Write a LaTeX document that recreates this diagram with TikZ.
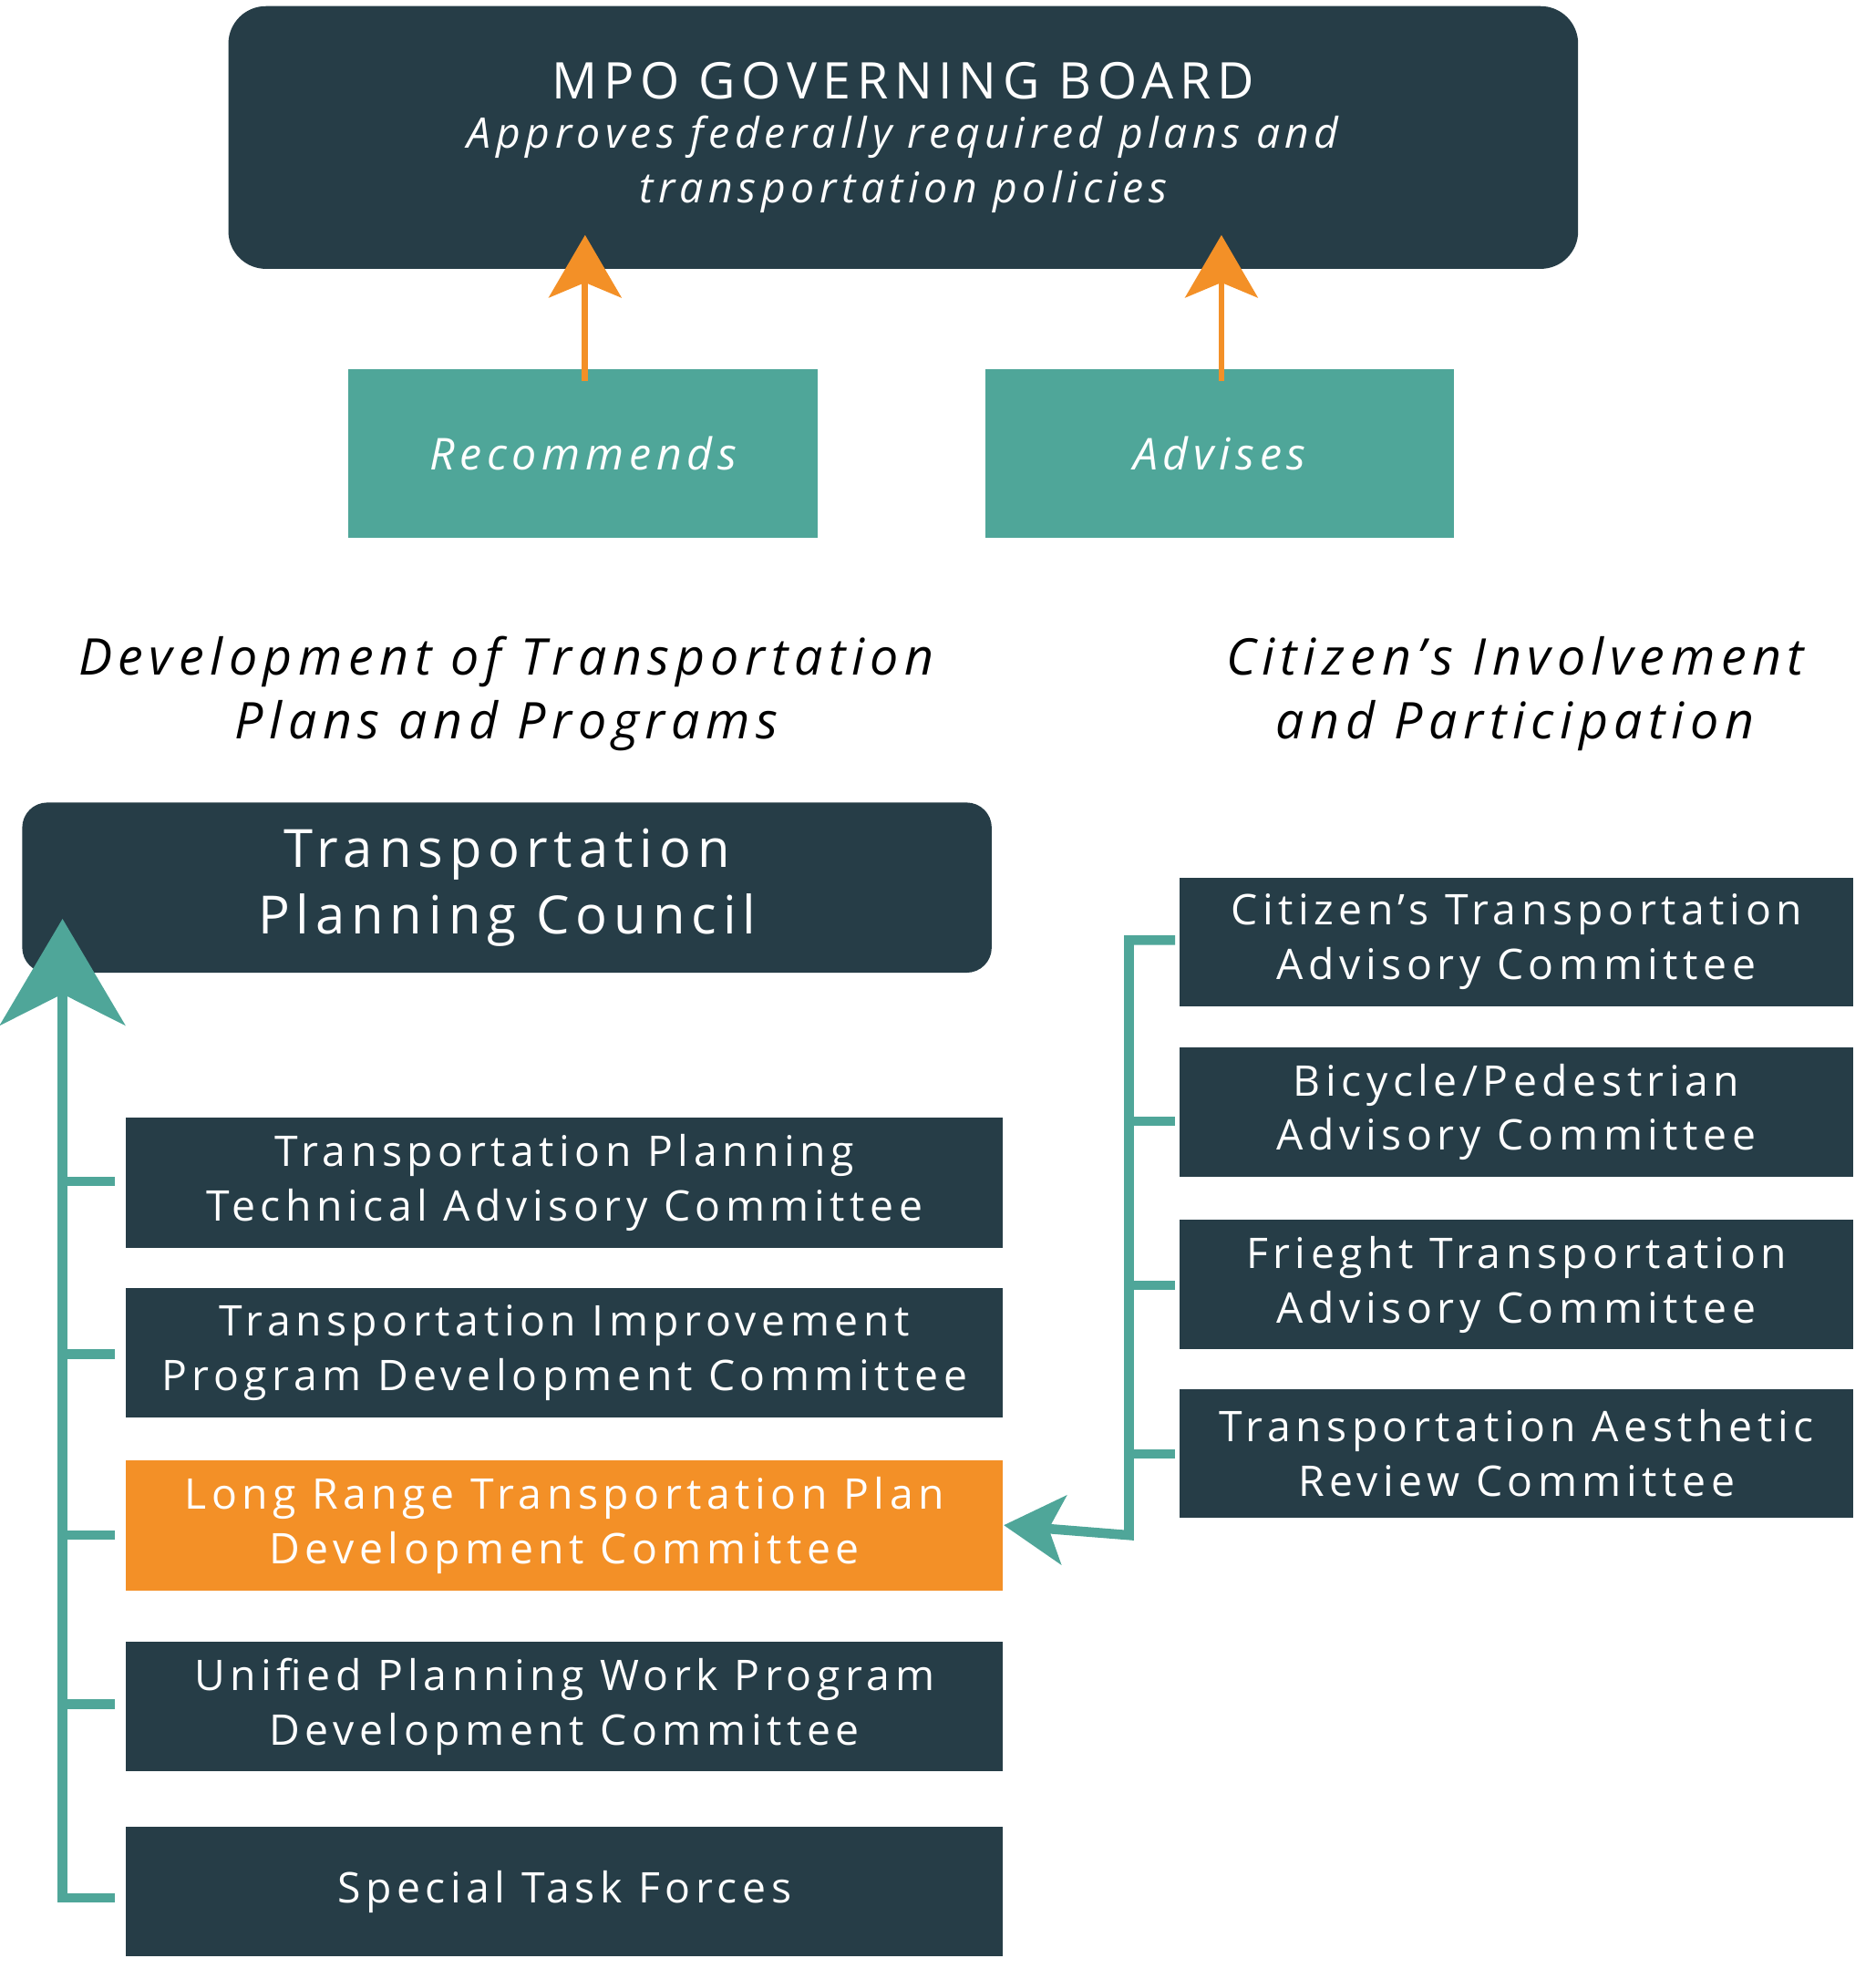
\documentclass[tikz,border=0pt]{standalone}
\usepackage{fontspec}
\setmainfont{Open Sans}[LetterSpace=12]
\usetikzlibrary{arrows.meta}
\definecolor{dk}{HTML}{263D47}
\definecolor{tl}{HTML}{4FA699}
\definecolor{og}{HTML}{F39027}
\tikzset{
 box/.style={fill=dk,text=white,inner sep=0pt,align=center,font=\fontsize{9.6}{12.4}\selectfont},
 lbox/.style={box,minimum width=7.01cm,minimum height=1.04cm},
 rbox/.style={box,minimum width=5.38cm,minimum height=1.03cm},
 gbox/.style={fill=tl,text=white,inner sep=0pt,minimum width=3.75cm,minimum height=1.35cm,font=\fontsize{10}{12}\selectfont\itshape},
 head/.style={align=center,font=\fontsize{11.5}{14.5}\selectfont\itshape},
 oarr/.style={draw=og,line width=1.4pt,-{Stealth[length=0.5cm,width=0.58cm,inset=0.12cm]}},
 tline/.style={draw=tl,line width=2.2pt},
}
\begin{document}
\begin{tikzpicture}[x=0.01cm,y=-0.01cm]
\useasboundingbox (0,0) rectangle (1500,1583);
\node[box,rounded corners=0.3cm,minimum width=10.79cm,minimum height=2.1cm] (mpo) at (722.5,110)
 {\fontsize{11.5}{15}\selectfont MPO GOVERNING BOARD\\[-1pt]\itshape Approves federally required plans and\\\itshape transportation policies};
\node[gbox] (rec) at (466.5,362.5) {Recommends};
\node[gbox] (adv) at (975.5,362.5) {Advises};
\coordinate (r1) at (468,188); \coordinate (a1) at (977,188);
\draw[oarr] (468,305) -- (r1);
\draw[oarr] (977,305) -- (a1);
\node[head] (h1) at (405,555) {Development of Transportation\\Plans and Programs};
\node[head] (h2) at (1212,555) {Citizen’s Involvement\\and Participation};
\node[box,rounded corners=0.2cm,minimum width=7.75cm,minimum height=1.36cm,font=\fontsize{12}{15}\selectfont] (tpc) at (405.5,710) {Transportation\\Planning Council};
\node[lbox] (l1) at (451.5,946) {Transportation Planning\\Technical Advisory Committee};
\node[lbox] (l2) at (451.5,1082) {Transportation Improvement\\Program Development Committee};
\node[lbox,fill=og] (l3) at (451.5,1220) {Long Range Transportation Plan\\Development Committee};
\node[lbox] (l4) at (451.5,1365) {Unified Planning Work Program\\Development Committee};
\node[lbox] (l5) at (451.5,1513) {Special Task Forces};
\node[rbox] (c1) at (1213,753.5) {Citizen’s Transportation\\Advisory Committee};
\node[rbox] (c2) at (1213,889.5) {Bicycle/Pedestrian\\Advisory Committee};
\node[rbox] (c3) at (1213,1027.5) {Frieght Transportation\\Advisory Committee};
\node[rbox] (c4) at (1213,1162.5) {Transportation Aesthetic\\Review Committee};
% left spine
\coordinate (tip) at (50,735);
\draw[tline,-{Stealth[length=0.85cm,width=1cm,inset=0.25cm]}] (92,1518) -- (50,1518) -- (tip);
\foreach \y in {945,1083,1228,1363} \draw[tline] (50,\y) -- (92,\y);
% right spine
\draw[tline,-{Stealth[length=0.48cm,width=0.55cm,inset=0.12cm]}] (940,752) -- (903,752) -- (903,1228) -- (l3.east);
\foreach \y in {897,1028,1163} \draw[tline] (903,\y) -- (940,\y);
\end{tikzpicture}
\end{document}
